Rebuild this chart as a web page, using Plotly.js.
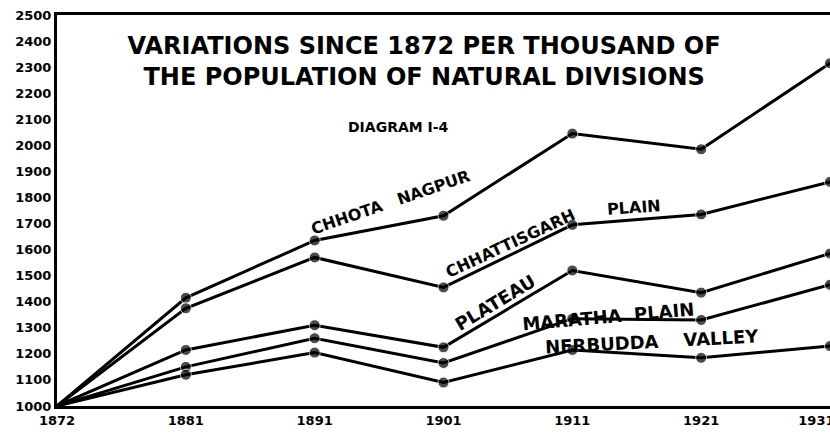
<!DOCTYPE html>
<html>
<head>
<meta charset="utf-8">
<script src="https://cdn.plot.ly/plotly-3.0.1.min.js"></script>
<style>
  html, body { margin: 0; padding: 0; background: #fff; }
  #chart { width: 830px; height: 438px; }
</style>
</head>
<body>
<div id="chart"></div>
<script>
// ---- data ----
const years = ['1872', '1881', '1891', '1901', '1911', '1921', '1931'];
const chhotaNagpur      = [1000, 1415, 1635, 1730, 2045, 1985, 2315];
const chhattisgarhPlain = [1000, 1375, 1570, 1455, 1695, 1735, 1860];
const plateau           = [1000, 1215, 1310, 1225, 1520, 1435, 1585];
const marathaPlain      = [1000, 1150, 1260, 1165, 1335, 1330, 1465];
const nerbuddaValley    = [1000, 1120, 1205, 1090, 1215, 1185, 1230];
const seriesNames = ['CHHOTA NAGPUR', 'CHHATTISGARH PLAIN', 'PLATEAU', 'MARATHA PLAIN', 'NERBUDDA VALLEY'];
const yTickValues = [1000, 1100, 1200, 1300, 1400, 1500, 1600, 1700, 1800, 1900, 2000, 2100, 2200, 2300, 2400, 2500];
const titleLines = ['VARIATIONS SINCE 1872 PER THOUSAND OF', 'THE POPULATION OF NATURAL DIVISIONS'];
const subTitle = 'DIAGRAM I-4';

const allSeries = [chhotaNagpur, chhattisgarhPlain, plateau, marathaPlain, nerbuddaValley];
const FONT = 'DejaVu Sans, Liberation Sans, sans-serif';

const traces = allSeries.map((vals, i) => ({
  type: 'scatter',
  mode: 'lines+markers',
  x: years,
  y: vals,
  name: seriesNames[i],
  line: { color: '#000', width: 3 },
  marker: { color: '#000', size: years.map((_, k) => k === 0 ? 0 : 11) },
  showlegend: false,
  hoverinfo: 'x+y+name'
}));

// x tick labels; the last one is nudged left as in the reference
const xTickText = years.map((y, k) => k === years.length - 1 ? y + '\u00a0\u00a0\u00a0\u00a0\u00a0\u00a0' : y);

// plot-area pixel helpers for label placement
const L = 57, R = 830, T = 15, B = 406;
const px = v => (v - L) / (R - L);
const py = v => (B - v) / (B - T);

function label(text, x, y, angle, size) {
  return {
    xref: 'paper', yref: 'paper', x: px(x), y: py(y),
    xanchor: 'center', yanchor: 'middle',
    text: '<b>' + text + '</b>', textangle: angle, showarrow: false,
    font: { family: FONT, size: size || 14, color: '#000' }
  };
}

const annotations = [
  label('CHHOTA&nbsp;&nbsp;&nbsp;NAGPUR', 390, 202, -19, 16),
  label('CHHATTISGARH', 510, 243, -25, 16),
  label('PLAIN', 634, 208, -4, 16),
  label('PLATEAU', 495, 302, -31, 18),
  label('MARATHA&nbsp;&nbsp;PLAIN', 608, 316, -5, 18),
  label('NERBUDDA&nbsp;&nbsp;&nbsp;&nbsp;VALLEY', 652, 341, -3, 18),
  label(subTitle, 398, 127, 0, 14)
];

const layout = {
  width: 830, height: 438,
  margin: { l: L, r: 830 - R, t: T, b: 438 - B },
  paper_bgcolor: '#fff', plot_bgcolor: '#fff',
  title: {
    text: '<b>' + titleLines.join('<br>') + '</b>',
    font: { family: FONT, size: 24, color: '#000' },
    x: 0.511, xanchor: 'center', xref: 'container',
    y: 1 - 54 / 438, yanchor: 'top', yref: 'container'
  },
  xaxis: {
    type: 'category', range: [0, 6],
    showline: true, linecolor: '#000', linewidth: 3, mirror: true,
    showgrid: false, zeroline: false, ticks: '',
    tickvals: years, ticktext: xTickText,
    tickfont: { family: FONT, size: 13, color: '#000', weight: 'bold' }
  },
  yaxis: {
    range: [1000, 2500], tickvals: yTickValues,
    showline: true, linecolor: '#000', linewidth: 3,
    showgrid: false, zeroline: false, ticks: '',
    tickfont: { family: FONT, size: 13, color: '#000', weight: 'bold' }
  },
  annotations: annotations
};

Plotly.newPlot('chart', traces, layout, { displayModeBar: false, staticPlot: true });
</script>
</body>
</html>
